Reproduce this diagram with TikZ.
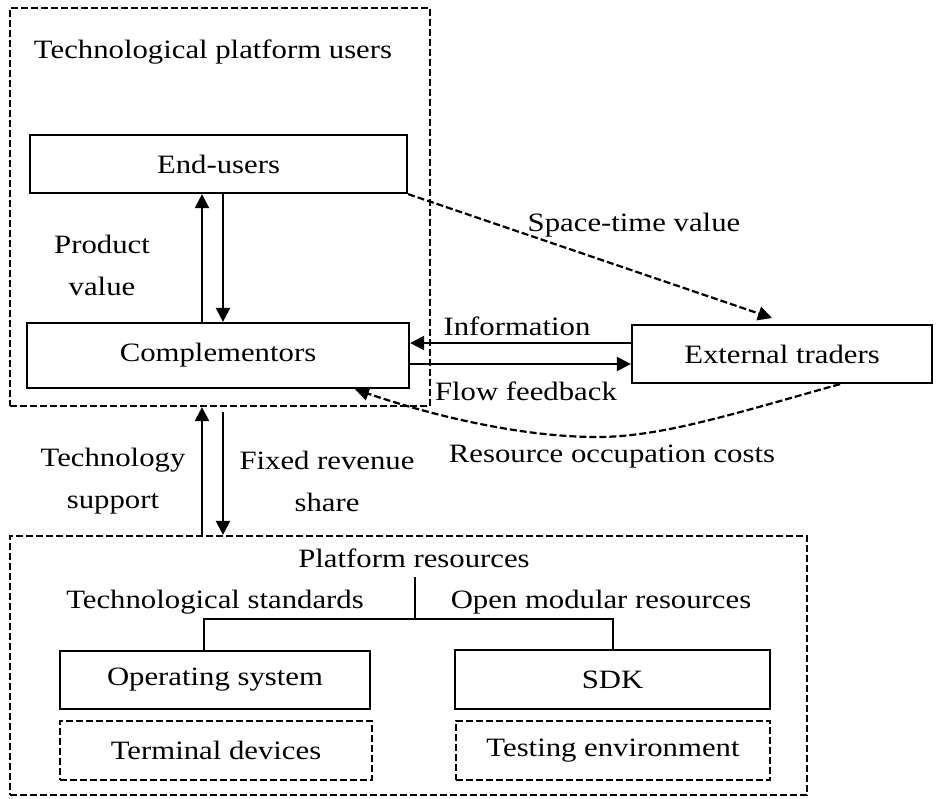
\documentclass[tikz,border=0pt]{standalone}
\usepackage{fontspec}
\setmainfont{Liberation Serif}[FakeStretch=1.16]
\usetikzlibrary{arrows.meta,calc}

\tikzset{
  lbl/.style={font=\fontsize{26.5}{42}\selectfont, align=center, inner sep=0pt},
  solidbox/.style={draw, line width=2.2pt, lbl},
  dashbox/.style={draw, line width=2.2pt, dash pattern=on 7pt off 3pt, lbl},
  conn/.style={line width=2.2pt},
  arr/.style={conn, -{Triangle[length=14pt,width=14pt]}},
  darr/.style={conn, dash pattern=on 7pt off 3pt, -{Triangle[length=14pt,width=14pt]}},
}

\begin{document}
\begin{tikzpicture}[x=1pt,y=-1pt]
\useasboundingbox (0,0) rectangle (936,798);

% upper group: platform users
\node[dashbox, minimum width=420pt, minimum height=398pt] (users) at (220,207) {};
\node[lbl] (utitle) at (213,52) {Technological platform users};
\node[solidbox, minimum width=377pt, minimum height=58pt] (eu) at (218.5,164) {End-users};
\node[solidbox, minimum width=382pt, minimum height=65pt] (comp) at (218,355.5) {Complementors};

% outside trader
\node[solidbox, minimum width=300pt, minimum height=58pt] (ext) at (782,354) {External traders};

% lower group: platform resources
\node[dashbox, minimum width=797pt, minimum height=259pt] (res) at (408.5,665.5) {};
\node[lbl] (pr) at (414,558) {Platform resources};
\node[lbl] (tstd) at (215,602) {Technological standards};
\node[lbl] (omr) at (601,602) {Open modular resources};
\node[solidbox, minimum width=310pt, minimum height=58pt] (os) at (215,680) {Operating system};
\node[solidbox, minimum width=315pt, minimum height=59pt] (sdk) at (612.5,679.5) {SDK};
\node[dashbox, minimum width=312pt, minimum height=59pt] (term) at (216,750.5) {Terminal devices};
\node[dashbox, minimum width=314pt, minimum height=59pt] (test) at (613,750.5) {Testing environment};

% connector labels
\node[lbl] (pv) at (102,265) {Product\\value};
\node[lbl] (stv) at (634,225) {Space-time value};
\node[lbl] (info) at (517,326) {Information};
\node[lbl] (flow) at (526,391) {Flow feedback};
\node[lbl] (roc) at (612,457) {Resource occupation costs};
\node[lbl] (tsup) at (113,481) {Technology\\support};
\node[lbl] (frs) at (327,481) {Fixed revenue\\share};

% helper positions for connectors
\coordinate (xl) at (202,0);
\coordinate (xr) at (223,0);
\coordinate (yi) at (0,343);
\coordinate (yf) at (0,364);
\coordinate (fsstart) at (223,412);
\coordinate (sttip) at (772,318);
\coordinate (rcx) at (840,0);
\coordinate (rce) at (355,0);
\coordinate (ttop) at (415,577);
\coordinate (tj) at (415,619);
\coordinate (osx) at (204,0);
\coordinate (sdkx) at (613,0);

% product value exchange
\draw[arr] (comp.north -| xl) -- (eu.south -| xl);
\draw[arr] (eu.south -| xr) -- (comp.north -| xr);

% technology support / revenue share
\draw[arr] (res.north -| xl) -- (users.south -| xl);
\draw[arr] (fsstart) -- (res.north -| xr);

% information and flow feedback
\draw[arr] (ext.west |- yi) -- (comp.east |- yi);
\draw[arr] (comp.east |- yf) -- (ext.west |- yf);

% space-time value
\draw[darr] (eu.south east) -- (sttip);

% resource occupation costs
\draw[darr] (ext.south -| rcx) .. controls (730,415) and (660,437) .. (597,437)
  .. controls (520,437) and (430,415) .. (comp.south -| rce);

% resource tree
\draw[conn] (ttop) -- (tj);
\draw[conn] (os.north -| osx) |- (tj) -| (sdk.north -| sdkx);
\end{tikzpicture}
\end{document}
